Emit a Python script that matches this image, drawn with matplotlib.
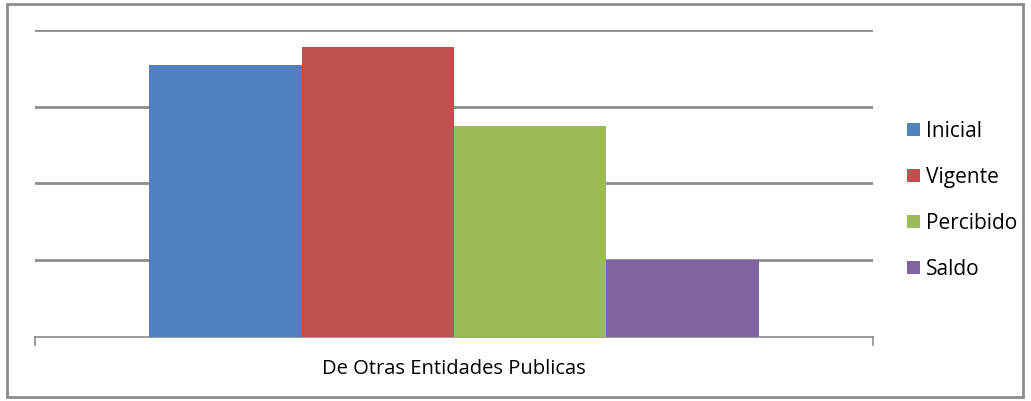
import numpy as np
import matplotlib.pyplot as plt
from matplotlib.patches import Rectangle

plt.rcParams["font.family"] = ["Open Sans", "DejaVu Sans"]

category = "De Otras Entidades Publicas"
series = ["Inicial", "Vigente", "Percibido", "Saldo"]
values = [3.54, 3.78, 2.75, 1.0]
colors = ["#4f81bd", "#c0504d", "#9bbb59", "#8064a2"]

fig = plt.figure(figsize=(10.31, 4.01), dpi=100)
ax = fig.add_axes([0.034, 0.1596, 0.813, 0.7656])

bar_w = 0.727 / len(series)
offsets = (np.arange(len(series)) - (len(series) - 1) / 2) * bar_w
for off, val, col, name in zip(offsets, values, colors, series):
    ax.bar(off, val, width=bar_w, color=col, label=name, zorder=3)

ax.set_xlim(-0.5, 0.5)
ax.set_ylim(0, 4)
ax.set_yticks([1, 2, 3, 4])
ax.yaxis.grid(True, color="#8c8c8c", linewidth=2, zorder=0)
ax.tick_params(axis="y", left=False, labelleft=False)
ax.set_xticks([0])
ax.set_xticklabels([category], fontsize=14.5)
ax.tick_params(axis="x", bottom=False, pad=12)
for x in (-0.5, 0.5):
    ax.plot([x, x], [0, -0.1], color="#8c8c8c", lw=1.2, clip_on=False)
for s in ["left", "right", "top"]:
    ax.spines[s].set_visible(False)
ax.spines["bottom"].set_color("#8c8c8c")
ax.spines["bottom"].set_linewidth(1.2)

fig.legend(loc="center left", bbox_to_anchor=(0.862, 0.5), frameon=False,
           fontsize=15, handlelength=0.6, handleheight=0.6,
           handletextpad=0.3, labelspacing=1.2)

fig.patches.append(Rectangle((0.007, 0.01), 0.985, 0.98, transform=fig.transFigure,
                             fill=False, edgecolor="#8c8c8c", linewidth=2))

fig.savefig("out.png")
